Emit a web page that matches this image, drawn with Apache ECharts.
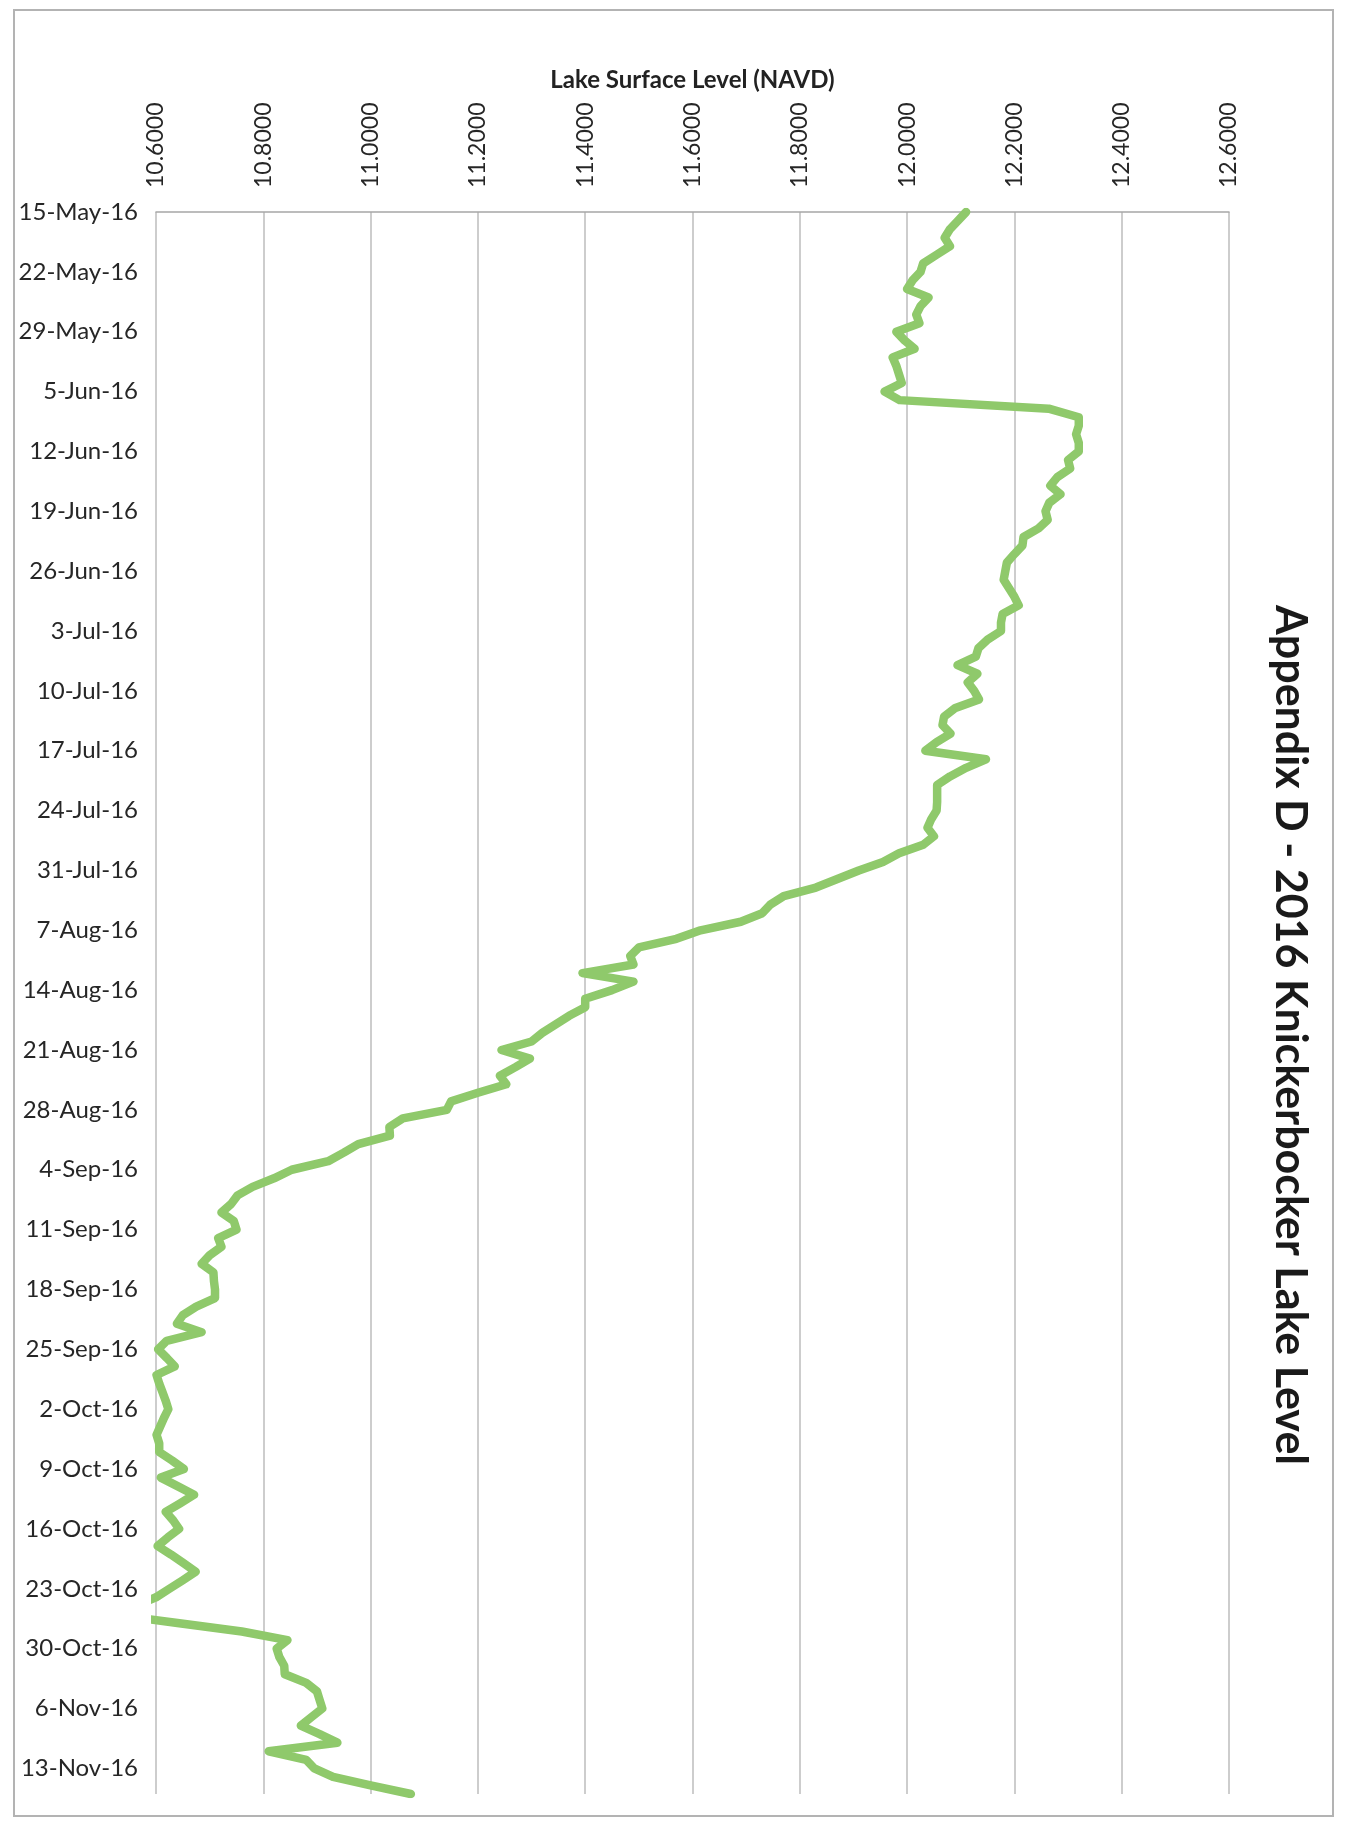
<!DOCTYPE html>
<html>
<head>
<meta charset="utf-8">
<script src="https://cdn.jsdelivr.net/npm/echarts@6/dist/echarts.min.js"></script>
<style>
html,body{margin:0;padding:0;background:#fff;}
#chart{width:1352px;height:1824px;}
</style>
</head>
<body>
<div id="chart"></div>
<script>
// ---- data ----
const chartTitle = 'Appendix D - 2016 Knickerbocker Lake Level';
const valueAxisTitle = 'Lake Surface Level (NAVD)';
const startDate = [2016, 5, 15];   // 15-May-16 (year, month 1-12, day)
const dayCount = 186;              // 15-May-16 .. 16-Nov-16 (daily readings)
const valueMin = 10.6;
const valueMax = 12.6;
const valueStep = 0.2;
const monthNames = ['Jan','Feb','Mar','Apr','May','Jun','Jul','Aug','Sep','Oct','Nov','Dec'];

// daily lake level readings (NAVD)
const levels = [
  12.11, 12.095, 12.08, 12.07, 12.08, 12.055, 12.03, 12.025, 12.01, 12.00,
  12.04, 12.025, 12.017, 12.023, 11.98, 11.995, 12.014, 11.973, 11.98, 11.985,
  11.99, 11.958, 11.986, 12.264, 12.32, 12.32, 12.315, 12.32, 12.32, 12.30,
  12.304, 12.28, 12.267, 12.286, 12.265, 12.258, 12.262, 12.245, 12.217, 12.215,
  12.20, 12.186, 12.183, 12.18, 12.19, 12.20, 12.208, 12.178, 12.175, 12.175,
  12.15, 12.133, 12.128, 12.094, 12.131, 12.113, 12.125, 12.134, 12.09, 12.069,
  12.066, 12.081, 12.055, 12.034, 12.147, 12.11, 12.08, 12.056, 12.056, 12.056,
  12.055, 12.045, 12.038, 12.05, 12.03, 11.985, 11.955, 11.91, 11.87, 11.83,
  11.77, 11.745, 11.73, 11.69, 11.615, 11.57, 11.50, 11.484, 11.49, 11.395,
  11.49, 11.45, 11.40, 11.40, 11.37, 11.345, 11.32, 11.30, 11.244, 11.297,
  11.27, 11.241, 11.253, 11.20, 11.15, 11.142, 11.06, 11.035, 11.036, 10.977,
  10.95, 10.921, 10.853, 10.82, 10.78, 10.752, 10.74, 10.722, 10.745, 10.75,
  10.716, 10.722, 10.70, 10.685, 10.707, 10.708, 10.71, 10.71, 10.675, 10.65,
  10.639, 10.685, 10.62, 10.604, 10.62, 10.635, 10.601, 10.606, 10.612, 10.618,
  10.623, 10.615, 10.608, 10.601, 10.606, 10.606, 10.63, 10.652, 10.609, 10.64,
  10.671, 10.645, 10.618, 10.632, 10.643, 10.622, 10.603, 10.628, 10.651, 10.674,
  10.65, 10.625, 10.60, 10.56, 10.52, 10.64, 10.76, 10.845, 10.825, 10.83,
  10.839, 10.84, 10.88, 10.90, 10.905, 10.91, 10.89, 10.87, 10.905, 10.938,
  10.81, 10.88, 10.895, 10.93, 11.0, 11.075
];

// date category labels (d-Mon-yy)
const dates = [];
for (let i = 0; i < dayCount; i++) {
  const d = new Date(startDate[0], startDate[1] - 1, startDate[2] + i);
  dates.push(d.getDate() + '-' + monthNames[d.getMonth()] + '-' + String(d.getFullYear()).slice(2));
}

const chart = echarts.init(document.getElementById('chart'), null, {renderer: 'canvas'});
const FONT = 'Lato, "Open Sans", "Liberation Sans", sans-serif';

chart.setOption({
  animation: false,
  backgroundColor: '#ffffff',
  grid: {left: 156, right: 123, top: 212, bottom: 30},
  xAxis: {
    type: 'value',
    position: 'top',
    min: valueMin,
    max: valueMax,
    interval: valueStep,
    name: valueAxisTitle,
    nameLocation: 'middle',
    nameGap: 120,
    nameTextStyle: {fontFamily: FONT, fontSize: 24, fontWeight: 'bold', color: '#222'},
    axisLine: {show: true, lineStyle: {color: '#a6a6a6', width: 1.5}},
    axisTick: {show: false},
    axisLabel: {
      rotate: -90,
      margin: 24,
      fontFamily: FONT,
      fontSize: 23,
      color: '#262626',
      formatter: v => v.toFixed(4)
    },
    splitLine: {show: true, lineStyle: {color: '#bdbdbd', width: 1.5}}
  },
  yAxis: {
    type: 'category',
    inverse: true,
    boundaryGap: false,
    data: dates,
    axisLine: {show: false},
    axisTick: {show: false},
    splitLine: {show: false},
    axisLabel: {
      interval: 6,
      margin: 18,
      fontFamily: FONT,
      fontSize: 24,
      color: '#262626'
    }
  },
  series: [{
    type: 'line',
    data: levels,
    showSymbol: false,
    symbol: 'none',
    clip: true,
    lineStyle: {color: '#8fc96b', width: 8.5, join: 'round', cap: 'round'}
  }],
  graphic: [
    {
      type: 'rect',
      silent: true,
      shape: {x: 14, y: 10, width: 1319, height: 1806},
      style: {fill: 'none', stroke: '#b3b3b3', lineWidth: 2}
    },
    {
      type: 'text',
      silent: true,
      x: 1290,
      y: 1035,
      rotation: -Math.PI / 2,
      style: {
        text: chartTitle,
        font: 'bold 43px ' + FONT,
        fill: '#1a1a1a',
        align: 'center',
        verticalAlign: 'middle'
      }
    }
  ]
});
</script>
</body>
</html>
